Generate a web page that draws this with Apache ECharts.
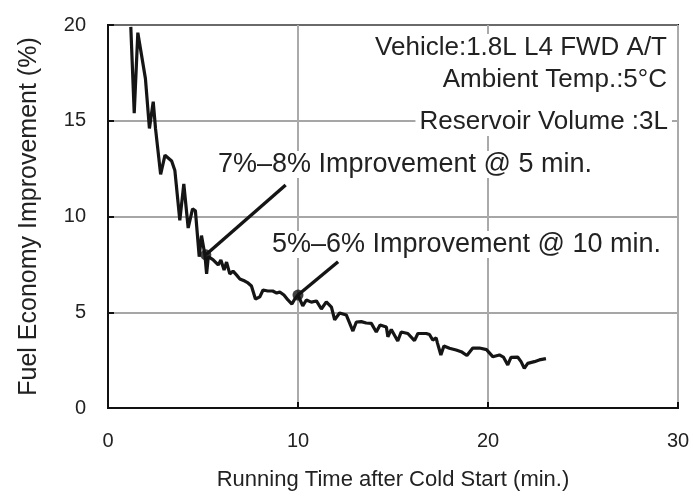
<!DOCTYPE html>
<html>
<head>
<meta charset="utf-8">
<script src="https://cdn.jsdelivr.net/npm/echarts@6/dist/echarts.min.js"></script>
<style>
html,body{margin:0;padding:0;background:#fff;}
#chart{width:693px;height:499px;}
</style>
</head>
<body>
<div id="chart"></div>
<script>
// Running time (min.)
var timeMin = [1.2,1.38,1.57,1.97,2.18,2.38,2.5,2.77,3.0,3.35,3.52,3.78,3.99,4.22,4.45,4.6,4.8,4.92,5.1,5.19,5.28,5.52,5.62,5.8,5.94,6.11,6.24,6.41,6.58,6.76,6.94,7.2,7.37,7.55,7.76,7.99,8.16,8.41,8.67,8.88,9.04,9.26,9.47,9.68,9.83,10.0,10.25,10.44,10.7,10.97,11.23,11.49,11.76,11.93,12.19,12.54,12.89,13.07,13.33,13.59,13.86,14.12,14.32,14.65,14.73,14.91,15.25,15.43,15.78,16.13,16.31,16.75,16.92,17.09,17.27,17.34,17.52,17.68,17.97,18.32,18.59,18.89,19.2,19.55,19.92,20.25,20.6,20.81,21.04,21.21,21.56,21.74,21.91,22.09,22.44,22.7,23.05];
// Fuel economy improvement (%)
var improvement = [19.9,15.4,19.6,17.2,14.6,16.0,14.6,12.2,13.2,12.9,12.4,9.8,11.7,9.4,10.4,10.3,7.9,9.0,8.0,7.0,7.9,7.75,7.78,7.47,7.73,7.21,7.62,7.0,7.15,6.95,6.74,6.63,6.53,6.37,5.69,5.8,6.16,6.11,6.11,6.0,6.06,5.9,5.64,5.43,5.69,5.9,5.33,5.64,5.53,5.59,5.17,5.54,5.27,4.6,4.96,4.86,4.02,4.49,4.51,4.44,4.42,3.97,4.33,4.23,3.72,4.1,3.5,3.97,3.89,3.52,3.89,3.89,3.84,3.55,3.66,3.39,2.77,3.24,3.12,3.03,2.94,2.74,3.13,3.13,3.05,2.68,2.77,2.66,2.25,2.64,2.66,2.42,2.07,2.33,2.42,2.51,2.58];
// Highlighted points and their callout line ends
var markedPoints = [[5.15, 8.0], [10.0, 5.9]];
var callout1 = [[5.15, 8.0], [9.35, 11.64]];
var callout2 = [[10.0, 5.9], [12.11, 7.64]];
var calloutTexts = ['7%\u20138% Improvement @ 5 min.', '5%\u20136% Improvement @ 10 min.'];
var infoTexts = ['Vehicle:1.8L L4 FWD A/T', 'Ambient Temp.:5\u00b0C', 'Reservoir Volume :3L'];
var xTicks = [0, 10, 20, 30];
var yTicks = [0, 5, 10, 15, 20];

var FONT = '"Liberation Sans", Arial, sans-serif';
var chart = echarts.init(document.getElementById('chart'));
var lineData = timeMin.map(function (t, i) { return [t, improvement[i]]; });

chart.setOption({
  animation: false,
  backgroundColor: '#fff',
  grid: {left: 108, right: 15, top: 25, bottom: 91, show: true, borderColor: '#111', borderWidth: 2, containLabel: false},
  xAxis: {
    type: 'value', min: xTicks[0], max: xTicks[xTicks.length - 1], interval: 10,
    name: 'Running Time after Cold Start (min.)', nameLocation: 'middle', nameGap: 61,
    nameTextStyle: {fontFamily: FONT, fontSize: 22, color: '#222'},
    axisLine: {show: true, lineStyle: {color: '#111', width: 2}},
    axisTick: {show: true, inside: true, length: 6, lineStyle: {color: '#111', width: 2}},
    axisLabel: {fontFamily: FONT, fontSize: 20, color: '#222', margin: 23},
    splitLine: {show: true, lineStyle: {color: '#aaa', width: 2}}
  },
  yAxis: {
    type: 'value', min: yTicks[0], max: yTicks[yTicks.length - 1], interval: 5,
    name: 'Fuel Economy Improvement (%)', nameLocation: 'middle', nameGap: 66, nameRotate: 90,
    nameTextStyle: {fontFamily: FONT, fontSize: 25, color: '#222'},
    axisLine: {show: true, lineStyle: {color: '#111', width: 2}},
    axisTick: {show: true, inside: true, length: 6, lineStyle: {color: '#111', width: 2}},
    axisLabel: {fontFamily: FONT, fontSize: 20, color: '#222', margin: 22},
    splitLine: {show: true, lineStyle: {color: '#888', width: 1.5}}
  },
  series: [
    {type: 'line', data: lineData, symbol: 'none', lineStyle: {color: '#151515', width: 3.2}, z: 3},
    {type: 'line', data: callout1, symbol: 'none', lineStyle: {color: '#151515', width: 3.4}, z: 4},
    {type: 'line', data: callout2, symbol: 'none', lineStyle: {color: '#151515', width: 3.4}, z: 4},
    {type: 'scatter', data: markedPoints, symbolSize: 11, itemStyle: {color: '#111'}, z: 5}
  ],
  graphic: [
    {type: 'rect', z: 9, shape: {x: 420, y: 34, width: 250, height: 102}, style: {fill: '#fff'}},
    {type: 'text', right: 24, top: 35, z: 10, style: {text: infoTexts[0], font: '26px ' + FONT, fill: '#222', backgroundColor: '#fff', padding: [0, 2]}},
    {type: 'text', right: 24, top: 67, z: 10, style: {text: infoTexts[1], font: '26px ' + FONT, fill: '#222', backgroundColor: '#fff', padding: [0, 2]}},
    {type: 'text', right: 21, top: 109, z: 10, style: {text: infoTexts[2], font: '26px ' + FONT, fill: '#222', backgroundColor: '#fff', padding: [0, 4]}},
    {type: 'text', left: 214, top: 151, z: 10, style: {text: calloutTexts[0], font: '27px ' + FONT, fill: '#222', backgroundColor: '#fff', padding: [0, 4]}},
    {type: 'text', left: 268, top: 231, z: 10, style: {text: calloutTexts[1], font: '27px ' + FONT, fill: '#222', backgroundColor: '#fff', padding: [0, 4]}}
  ]
});
</script>
</body>
</html>
